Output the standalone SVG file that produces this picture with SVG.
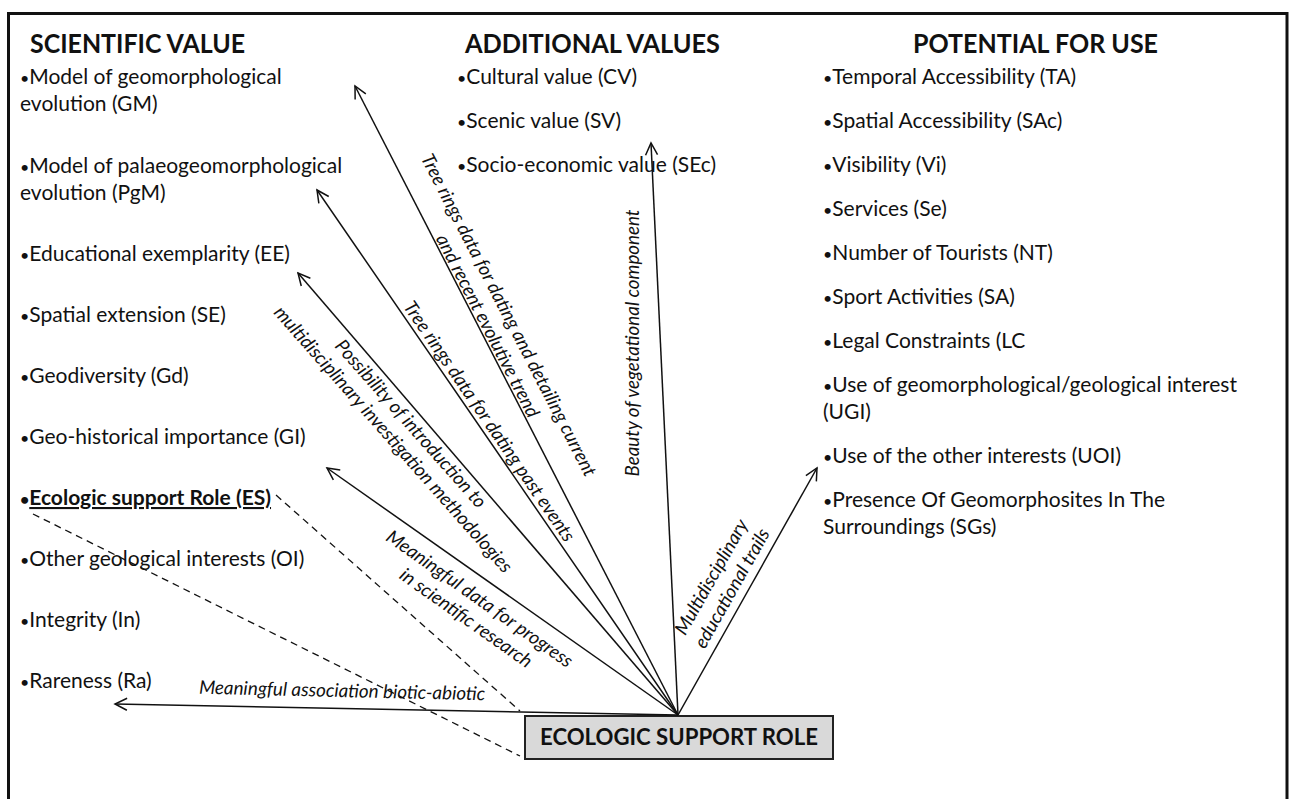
<svg xmlns="http://www.w3.org/2000/svg" width="1289" height="799" viewBox="0 0 1289 799">
  <style>
    text { font-family: Lato, "Open Sans", "Liberation Sans", sans-serif; fill: #111; }
    .head { font-size: 26px; font-weight: bold; }
    .item { font-size: 21px; }
    .bul { font-size: 16px; }
    .lab { font-size: 18.8px; font-style: italic; }
    .box-title { font-size: 22.5px; font-weight: bold; }
    .arrow { stroke: #111; stroke-width: 1.5; fill: none; marker-end: url(#open-head); }
    .dash { stroke: #111; stroke-width: 1.3; fill: none; stroke-dasharray: 7 5; }
  </style>
  <defs>
    <marker id="open-head" markerUnits="userSpaceOnUse" markerWidth="16" markerHeight="16" viewBox="-14 -8 16 16" refX="0" refY="0" orient="auto">
      <path d="M-12,-6 L0,0 L-12,6" fill="none" stroke="#111" stroke-width="1.5"/>
    </marker>
  </defs>

  <rect width="1289" height="799" fill="#fff"/>
  <!-- outer frame, open at the bottom -->
  <rect x="8.5" y="13.5" width="1278.5" height="900" fill="none" stroke="#111" stroke-width="3"/>

  <g id="scientific-value">
    <text class="head" x="30" y="53" textLength="215" lengthAdjust="spacingAndGlyphs">SCIENTIFIC VALUE</text>
    <text class="item" x="20" y="84"><tspan class="bul">•</tspan>Model of geomorphological</text>
    <text class="item" x="20" y="111">evolution (GM)</text>
    <text class="item" x="20" y="173"><tspan class="bul">•</tspan>Model of palaeogeomorphological</text>
    <text class="item" x="20" y="200">evolution (PgM)</text>
    <text class="item" x="20" y="261"><tspan class="bul">•</tspan>Educational exemplarity (EE)</text>
    <text class="item" x="20" y="322"><tspan class="bul">•</tspan>Spatial extension (SE)</text>
    <text class="item" x="20" y="383"><tspan class="bul">•</tspan>Geodiversity (Gd)</text>
    <text class="item" x="20" y="444"><tspan class="bul">•</tspan>Geo-historical importance (GI)</text>
    <text class="item" x="20" y="505" font-weight="bold"><tspan class="bul">•</tspan><tspan text-decoration="underline">Ecologic support Role (ES)</tspan></text>
    <text class="item" x="20" y="566"><tspan class="bul">•</tspan>Other geological interests (OI)</text>
    <text class="item" x="20" y="627"><tspan class="bul">•</tspan>Integrity (In)</text>
    <text class="item" x="20" y="688"><tspan class="bul">•</tspan>Rareness (Ra)</text>
  </g>

  <g id="additional-values">
    <text class="head" x="465" y="53" textLength="255" lengthAdjust="spacingAndGlyphs">ADDITIONAL VALUES</text>
    <text class="item" x="457" y="84"><tspan class="bul">•</tspan>Cultural value (CV)</text>
    <text class="item" x="457" y="128"><tspan class="bul">•</tspan>Scenic value (SV)</text>
    <text class="item" x="457" y="172"><tspan class="bul">•</tspan>Socio-economic value (SEc)</text>
  </g>

  <g id="potential-for-use">
    <text class="head" x="913" y="53" textLength="245" lengthAdjust="spacingAndGlyphs">POTENTIAL FOR USE</text>
    <text class="item" x="823" y="84"><tspan class="bul">•</tspan>Temporal Accessibility (TA)</text>
    <text class="item" x="823" y="128"><tspan class="bul">•</tspan>Spatial Accessibility (SAc)</text>
    <text class="item" x="823" y="172"><tspan class="bul">•</tspan>Visibility (Vi)</text>
    <text class="item" x="823" y="216"><tspan class="bul">•</tspan>Services (Se)</text>
    <text class="item" x="823" y="260"><tspan class="bul">•</tspan>Number of Tourists (NT)</text>
    <text class="item" x="823" y="304"><tspan class="bul">•</tspan>Sport Activities (SA)</text>
    <text class="item" x="823" y="348"><tspan class="bul">•</tspan>Legal Constraints (LC</text>
    <text class="item" x="823" y="392"><tspan class="bul">•</tspan>Use of geomorphological/geological interest</text>
    <text class="item" x="823" y="419">(UGI)</text>
    <text class="item" x="823" y="463"><tspan class="bul">•</tspan>Use of the other interests (UOI)</text>
    <text class="item" x="823" y="507"><tspan class="bul">•</tspan>Presence Of Geomorphosites In The</text>
    <text class="item" x="823" y="534">Surroundings (SGs)</text>
  </g>

  <g id="ecologic-support-role">
    <rect x="525" y="716" width="308" height="43" fill="#d9d9d9" stroke="#222" stroke-width="2"/>
    <text class="box-title" x="679" y="745" text-anchor="middle" textLength="278" lengthAdjust="spacingAndGlyphs">ECOLOGIC SUPPORT ROLE</text>
  </g>

  <g id="connectors">
    <!-- arrows radiating from the top of the box -->
    <line class="arrow" x1="678" y1="715" x2="355" y2="86"/>
    <line class="arrow" x1="678" y1="715" x2="317" y2="190"/>
    <line class="arrow" x1="678" y1="715" x2="298" y2="273"/>
    <line class="arrow" x1="678" y1="715" x2="327" y2="468"/>
    <line class="arrow" x1="678" y1="715" x2="651" y2="143"/>
    <line class="arrow" x1="678" y1="715" x2="817" y2="468"/>
    <line class="arrow" x1="678" y1="715" x2="115" y2="704"/>
    <!-- dashed links from the ES item to the box -->
    <line class="dash" x1="276" y1="495" x2="520" y2="711"/>
    <line class="dash" x1="33" y1="514" x2="520" y2="756"/>

    <!-- arrow labels -->
    <g transform="translate(503,318) rotate(62.7)">
      <text class="lab" x="0" y="0" text-anchor="middle">Tree rings data for dating and detailing current</text>
      <text class="lab" x="0" y="23.5" text-anchor="middle">and recent evolutive trend</text>
    </g>
    <g transform="translate(484,425) rotate(55.5)">
      <text class="lab" x="0" y="0" text-anchor="middle">Tree rings data for dating past events</text>
    </g>
    <g transform="translate(406,428) rotate(48.5)">
      <text class="lab" x="0" y="0" text-anchor="middle">Possibility of introduction to</text>
      <text class="lab" x="0" y="23.5" text-anchor="middle">multidisciplinary investigation methodologies</text>
    </g>
    <g transform="translate(476,604) rotate(35.2)">
      <text class="lab" x="0" y="0" text-anchor="middle">Meaningful data for progress</text>
      <text class="lab" x="0" y="23.5" text-anchor="middle">in scientific research</text>
    </g>
    <g transform="translate(639,343) rotate(-90)">
      <text class="lab" x="0" y="0" text-anchor="middle">Beauty of vegetational component</text>
    </g>
    <g transform="translate(717,580) rotate(-60.6)">
      <text class="lab" x="0" y="0" text-anchor="middle">Multidisciplinary</text>
      <text class="lab" x="0" y="23.5" text-anchor="middle">educational trails</text>
    </g>
    <g transform="translate(342,697) rotate(1.3)">
      <text class="lab" x="0" y="0" text-anchor="middle">Meaningful association biotic-abiotic</text>
    </g>
  </g>
</svg>
